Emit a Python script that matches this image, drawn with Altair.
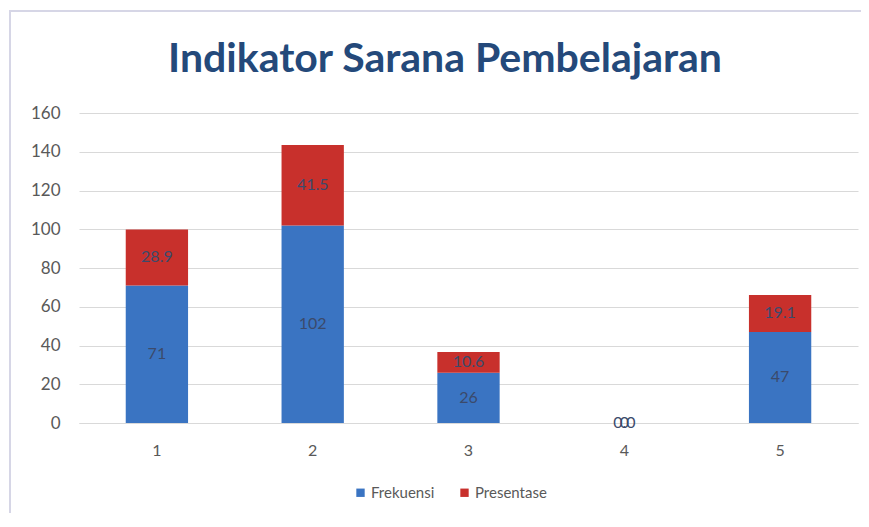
import altair as alt
import pandas as pd

kategori = ["1", "2", "3", "4", "5"]
frekuensi = [71, 102, 26, 0, 47]
presentase = [28.9, 41.5, 10.6, 0.0, 19.1]
seri = ["Frekuensi", "Presentase"]
warna = ["#3A74C2", "#C8302C"]
judul = ["Indikator Sarana Pembelajaran"]
y_ticks = [0, 20, 40, 60, 80, 100, 120, 140, 160]

rows = []
for k, f, p in zip(kategori, frekuensi, presentase):
    rows.append({"kategori": k, "seri": "Frekuensi", "nilai": f, "urut": 0, "label": f"{f}"})
    rows.append({"kategori": k, "seri": "Presentase", "nilai": p, "urut": 1, "label": f"{p:.1f}"})
df = pd.DataFrame(rows)

W, H = 779, 310
PAD = {"left": 71, "top": 105, "right": 3, "bottom": 90}

base = alt.Chart(df).transform_stack(
    stack="nilai", groupby=["kategori"], as_=["y0", "y1"],
    sort=[alt.SortField("urut", order="ascending")]
).transform_calculate(mid="(datum.y0 + datum.y1) / 2")

x_axis = alt.Axis(title=None, labelAngle=0, labelFont="Lato", labelFontSize=16,
                  labelColor="#595959", ticks=False, tickSize=0, labelPadding=19,
                  domainColor="#D9D9D9", domainWidth=1, grid=False)
x_scale = alt.Scale(paddingInner=0.6, paddingOuter=0.3)
y_axis = alt.Axis(title=None, values=y_ticks, tickCount=9,
                  labelFont="Lato", labelFontSize=17, labelColor="#595959",
                  labelOverlap=False,
                  ticks=False, tickSize=0, labelPadding=19, domain=False,
                  gridColor="#D9D9D9", gridWidth=1)
y_scale = alt.Scale(domain=[0, 160])

bars = base.mark_bar().encode(
    x=alt.X("kategori:N", sort=kategori, scale=x_scale, axis=x_axis),
    y=alt.Y("y0:Q", scale=y_scale, axis=y_axis),
    y2="y1:Q",
    color=alt.Color("seri:N", scale=alt.Scale(domain=seri, range=warna),
                    legend=alt.Legend(title=None, orient="none", legendX=274, legendY=372,
                                      direction="horizontal", symbolType="square",
                                      symbolSize=70, symbolStrokeWidth=0,
                                      labelFont="Lato", labelFontSize=15,
                                      labelColor="#595959", columnPadding=22,
                                      labelOffset=3)),
    order=alt.Order("urut:Q"),
)

labels = base.mark_text(font="Lato", fontSize=16, color="#3B4A6B").encode(
    x=alt.X("kategori:N", sort=kategori, scale=x_scale, axis=x_axis),
    y=alt.Y("mid:Q", scale=y_scale, axis=y_axis),
    text="label:N",
)

border = alt.Chart(pd.DataFrame({"a": [0]})).mark_rect(
    fill=None, stroke="#D6D6E6", strokeWidth=2
).encode(
    x=alt.value(-69), x2=alt.value(800), y=alt.value(-102), y2=alt.value(420)
)

title = alt.Chart(pd.DataFrame({"t": judul})).mark_text(
    font="Lato", fontSize=41, fontWeight="bold", color="#24497A",
    align="center", baseline="alphabetic"
).encode(
    text="t:N", x=alt.value(366), y=alt.value(-41)
)

chart = alt.layer(border, bars, labels, title).properties(
    width=W, height=H,
    autosize=alt.AutoSizeParams(type="none"),
    padding=PAD,
    background="white",
).configure_view(stroke=None)

chart.save("out.html", embed_options={"renderer": "svg", "actions": False})
